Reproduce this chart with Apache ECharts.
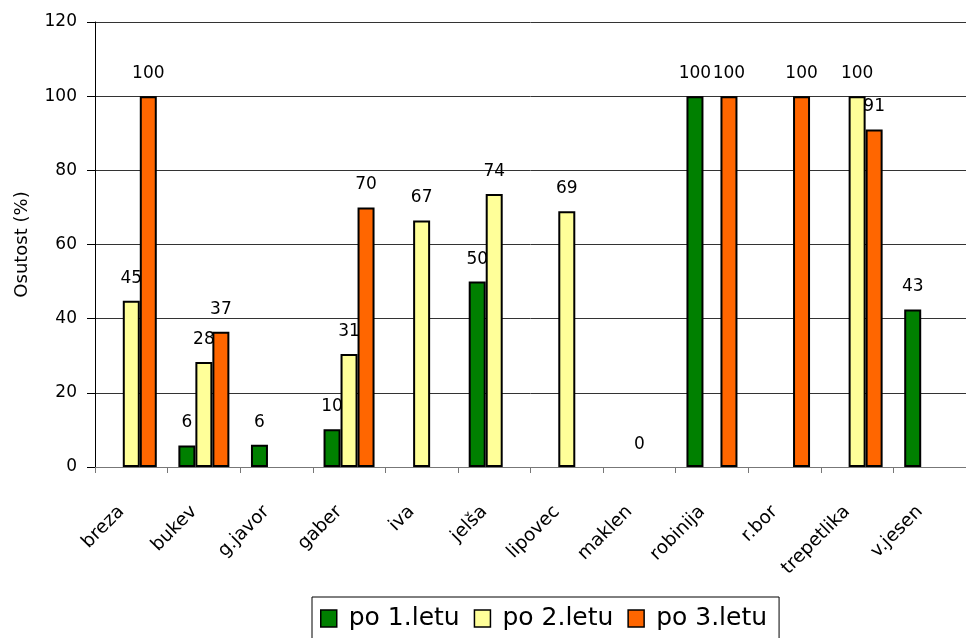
<!DOCTYPE html>
<html>
<head>
<meta charset="utf-8">
<script src="https://cdn.jsdelivr.net/npm/echarts@6/dist/echarts.min.js"></script>
<style>html,body{margin:0;padding:0;background:#fff;}#c{width:966px;height:638px;}</style>
</head>
<body>
<div id="c"></div>
<script>
const categories = ['breza','bukev','g.javor','gaber','iva','jelša','lipovec','maklen','robinija','r.bor','trepetlika','v.jesen'];
const seriesNames = ['po 1.letu','po 2.letu','po 3.letu'];
const po1 = [null, 5.8, 6, 10.2, null, 50, null, null, 100, null, null, 42.5];
const po2 = [44.8, 28.3, null, 30.5, 66.5, 73.6, 69, 0, null, null, 100, null];
const po3 = [100, 36.5, null, 70, null, null, null, null, 100, 100, 91, null];
const yTicks = [0, 20, 40, 60, 80, 100, 120];
const colors = ['#008000', '#FFFF99', '#FF6600'];

const FONT = 'DejaVu Sans';
const chart = echarts.init(document.getElementById('c'), null, {renderer: 'canvas'});
const mk = (name, data, color) => ({
  name, type: 'bar',
  data: data.map(v => (v === 0 ? {value: 0, itemStyle: {borderWidth: 0}} : v)),
  barWidth: 17, barGap: '0%',
  itemStyle: {color, borderColor: '#000', borderWidth: 2},
  label: {show: true, position: 'top', distance: 14, color: '#000', fontFamily: FONT, fontSize: 17,
    formatter: p => (p.value == null ? '' : Math.round(p.value))}
});
chart.setOption({
  animation: false,
  backgroundColor: '#fff',
  grid: {left: 95, top: 22, width: 884, height: 445, containLabel: false},
  legend: {
    left: 312, top: 597,
    data: seriesNames,
    itemWidth: 16, itemHeight: 17, itemGap: 14,
    padding: [9, 12, 30, 8],
    borderColor: '#000', borderWidth: 1,
    icon: 'rect',
    itemStyle: {borderColor: '#000', borderWidth: 1.5},
    textStyle: {fontFamily: FONT, fontSize: 25, color: '#000', padding: [0, 0, 0, 7]}
  },
  xAxis: {
    type: 'category', data: categories,
    axisLine: {lineStyle: {color: '#777', width: 1}},
    axisTick: {show: true, length: 6, lineStyle: {color: '#777'}},
    axisLabel: {rotate: 45, margin: 32, padding: [0, 14, 0, 0], fontFamily: FONT, fontSize: 18.5, color: '#000', interval: 0},
    splitLine: {show: false}
  },
  yAxis: {
    type: 'value', min: yTicks[0], max: yTicks[yTicks.length - 1], interval: 20,
    name: 'Osutost (%)', nameLocation: 'middle', nameGap: 64, nameRotate: 90,
    nameTextStyle: {fontFamily: FONT, fontSize: 18, color: '#000'},
    axisLine: {show: true, lineStyle: {color: '#000', width: 1}},
    axisTick: {show: true, length: 8, lineStyle: {color: '#000'}},
    axisLabel: {fontFamily: FONT, fontSize: 17, color: '#000', margin: 18},
    splitLine: {show: true, lineStyle: {color: '#333', width: 1}}
  },
  series: [mk(seriesNames[0], po1, colors[0]), mk(seriesNames[1], po2, colors[1]), mk(seriesNames[2], po3, colors[2])]
});
</script>
</body>
</html>
